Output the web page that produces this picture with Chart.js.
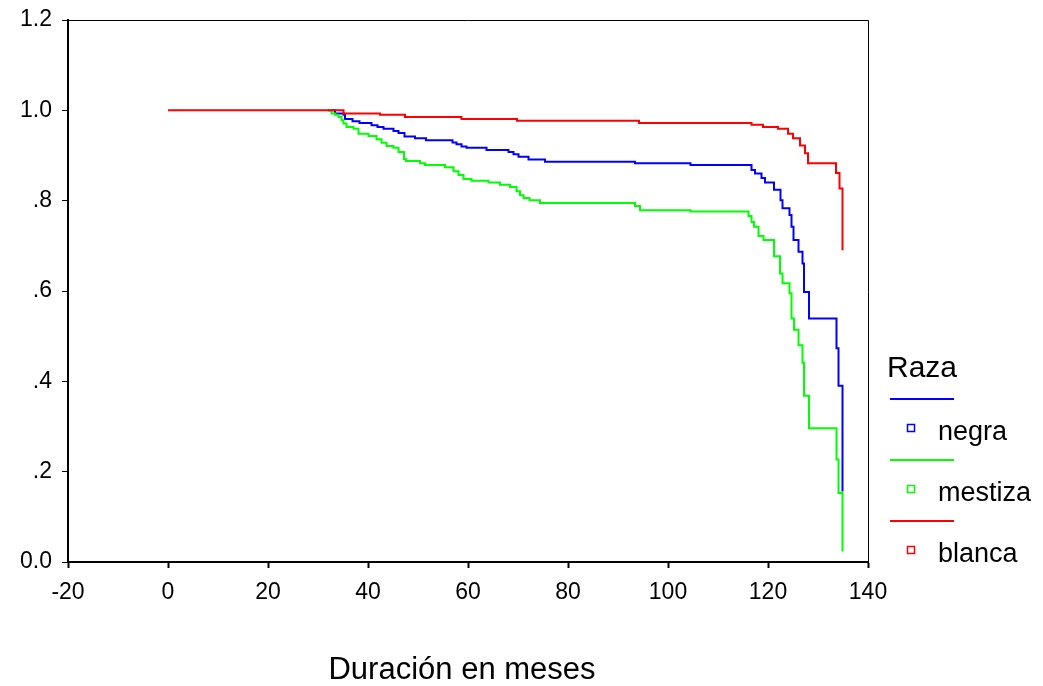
<!DOCTYPE html>
<html>
<head>
<meta charset="utf-8">
<script src="https://cdn.jsdelivr.net/npm/chart.js@4"></script>
<style>
  body { margin: 0; background: #fff; }
</style>
</head>
<body>
<canvas id="km" width="1043" height="686"></canvas>
<script>
// Kaplan-Meier steps: [meses, supervivencia]
const negra = [
  [32.0, 1.0], [33.4, 0.993], [35.1, 0.990], [35.4, 0.981], [36.9, 0.976], [38.3, 0.972],
  [40.7, 0.967], [41.9, 0.963], [43.1, 0.959], [45.1, 0.954], [46.1, 0.950], [47.3, 0.942],
  [49.4, 0.938], [51.6, 0.934], [56.9, 0.929], [57.7, 0.925], [58.7, 0.920], [59.7, 0.917],
  [63.7, 0.912], [68.1, 0.908], [69.1, 0.903], [70.1, 0.897], [72.1, 0.891], [75.4, 0.886],
  [93.4, 0.883], [104.5, 0.879], [116.7, 0.868], [117.4, 0.860], [118.7, 0.850], [119.4, 0.840],
  [121.2, 0.824], [122.5, 0.801], [122.9, 0.783], [124.3, 0.768], [124.7, 0.742], [125.1, 0.713],
  [126.1, 0.687], [126.9, 0.661], [127.2, 0.598], [128.2, 0.539], [133.7, 0.473], [134.1, 0.390],
  [134.9, 0.156]
];
const mestiza = [
  [32.0, 1.0], [32.7, 0.993], [33.4, 0.990], [34.1, 0.985], [34.7, 0.978], [35.1, 0.971],
  [35.7, 0.963], [37.1, 0.959], [38.1, 0.948], [40.1, 0.943], [41.7, 0.936], [42.7, 0.928],
  [43.7, 0.921], [45.1, 0.917], [46.1, 0.908], [47.2, 0.892], [47.6, 0.888], [50.4, 0.883],
  [51.4, 0.879], [55.4, 0.874], [57.1, 0.865], [58.1, 0.857], [59.1, 0.848], [60.7, 0.844],
  [64.1, 0.840], [66.4, 0.835], [68.4, 0.830], [69.7, 0.821], [70.4, 0.812], [71.1, 0.806],
  [72.3, 0.801], [74.4, 0.795], [93.4, 0.788], [94.4, 0.779], [104.5, 0.776], [116.1, 0.766],
  [116.7, 0.753], [117.2, 0.742], [118.1, 0.722], [119.1, 0.713], [121.2, 0.677], [122.4, 0.639],
  [122.9, 0.617], [124.3, 0.595], [124.7, 0.539], [125.2, 0.514], [126.1, 0.480], [126.9, 0.441],
  [127.2, 0.368], [128.2, 0.296], [133.7, 0.227], [134.1, 0.153], [134.9, 0.023]
];
const blanca = [
  [0, 1.0], [35.1, 0.993], [42.4, 0.990], [47.4, 0.985], [58.7, 0.981], [69.8, 0.977],
  [94.2, 0.972], [116.7, 0.968], [119.0, 0.963], [122.0, 0.959], [124.0, 0.948], [125.0, 0.938],
  [126.4, 0.922], [127.4, 0.905], [128.0, 0.883], [133.6, 0.861], [134.3, 0.827], [134.9, 0.690]
];

const grupos = ["negra", "mestiza", "blanca"];
const colores = ["#0000ff", "#00ff00", "#ff0000"];
const xTicks = [-20, 0, 20, 40, 60, 80, 100, 120, 140];
const yTicks = [0, 0.2, 0.4, 0.6, 0.8, 1.0, 1.2];

const FONT = "'Liberation Sans', Arial, sans-serif";

const toPts = (arr) => arr.map(([x, y]) => ({ x, y }));

// top/right frame, x title and the legend on the right
const extras = {
  id: "extras",
  afterDraw(chart) {
    const { ctx, chartArea } = chart;
    ctx.save();
    ctx.strokeStyle = "#000";
    ctx.lineWidth = 1;
    ctx.beginPath();
    ctx.moveTo(chartArea.left, chartArea.top + 0.5);
    ctx.lineTo(chartArea.right + 0.5, chartArea.top + 0.5);
    ctx.lineTo(chartArea.right + 0.5, chartArea.bottom);
    ctx.stroke();

    ctx.fillStyle = "#000";
    ctx.textBaseline = "alphabetic";
    ctx.textAlign = "center";
    ctx.font = "31px " + FONT;
    ctx.fillText("Duración en meses", 462, 679);

    ctx.textAlign = "left";
    ctx.font = "30px " + FONT;
    ctx.fillText("Raza", 887, 377);
    ctx.font = "27px " + FONT;
    grupos.forEach((g, i) => {
      const y0 = 399 + i * 61;
      ctx.strokeStyle = colores[i];
      ctx.lineWidth = 2;
      ctx.beginPath();
      ctx.moveTo(890, y0);
      ctx.lineTo(954, y0);
      ctx.stroke();
      ctx.lineWidth = 1.5;
      ctx.strokeRect(907.5, y0 + 25.5, 7, 7);
      ctx.fillText(g, 938, y0 + 41);
    });
    ctx.restore();
  }
};

new Chart(document.getElementById("km"), {
  type: "line",
  data: {
    datasets: [
      { label: "negra", data: toPts(negra), borderColor: colores[0], order: 2 },
      { label: "mestiza", data: toPts(mestiza), borderColor: colores[1], order: 1 },
      { label: "blanca", data: toPts(blanca), borderColor: colores[2], order: 0 }
    ].map((d) => ({ ...d, stepped: true, borderWidth: 2, pointRadius: 0, fill: false }))
  },
  options: {
    responsive: false,
    animation: false,
    layout: { padding: { top: 20, right: 175, left: 0, bottom: 0 } },
    plugins: { legend: { display: false }, tooltip: { enabled: false } },
    scales: {
      x: {
        type: "linear",
        min: -20,
        max: 140,
        afterBuildTicks: (s) => { s.ticks = xTicks.map((v) => ({ value: v })); },
        afterFit: (s) => { s.height = 124; s.paddingLeft = 0; s.paddingRight = 0; },
        grid: { drawOnChartArea: false, tickLength: 6, color: "#000", tickWidth: 2 },
        border: { color: "#000", width: 2 },
        ticks: { color: "#000", font: { size: 23, family: FONT }, padding: 11 }
      },
      y: {
        min: 0,
        max: 1.2,
        afterBuildTicks: (s) => { s.ticks = yTicks.map((v) => ({ value: v })); },
        afterFit: (s) => { s.width = 68; s.paddingTop = 0; s.paddingBottom = 0; },
        grid: { drawOnChartArea: false, tickLength: 6, color: "#000", tickWidth: 1 },
        border: { color: "#000", width: 2 },
        ticks: {
          color: "#000",
          font: { size: 23, family: FONT },
          padding: 10,
          callback: (v) => {
            const s = Number(v).toFixed(1);
            return v > 0 && v < 1 ? s.slice(1) : s;
          }
        }
      }
    }
  },
  plugins: [extras]
});
</script>
</body>
</html>
